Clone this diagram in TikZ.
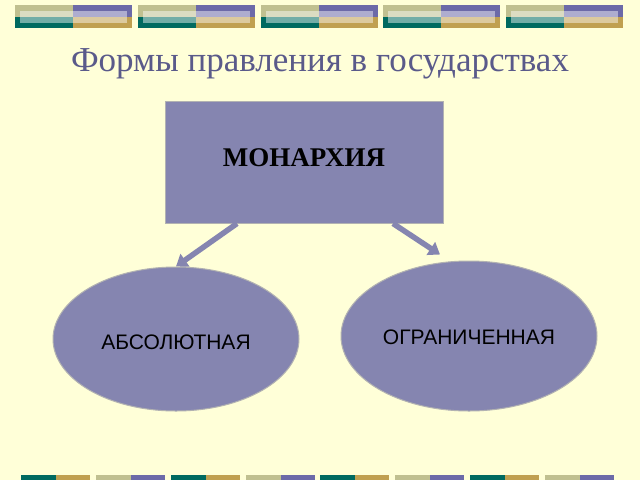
\documentclass[tikz,border=0pt]{standalone}
\usepackage{fontspec}
\setmainfont{Liberation Serif}
\setsansfont{Liberation Sans}
\usetikzlibrary{arrows.meta,shapes.geometric}
\definecolor{bg}{HTML}{FFFFD8}
\definecolor{ol}{HTML}{C0C090}
\definecolor{pu}{HTML}{6C6AA8}
\definecolor{te}{HTML}{006A60}
\definecolor{go}{HTML}{C0A050}
\definecolor{fillc}{HTML}{8585B0}
\definecolor{tit}{HTML}{5A5A8A}
\tikzset{shp/.style={fill=fillc,draw=gray!60,line width=1pt},
 arr/.style={draw=fillc,line width=5.5pt,-{Triangle[length=11pt,width=15pt]}}}
\begin{document}
\begin{tikzpicture}[x=1pt,y=-1pt]
\fill[bg] (0,0) rectangle (640,480);
\useasboundingbox (0,0) rectangle (640,480);
\foreach \x in {15,138,261,383,506}{
 \fill[ol] (\x,5) rectangle ++(58,12);
 \fill[pu] (\x+58,5) rectangle ++(59,12);
 \fill[te] (\x,17) rectangle ++(58,11);
 \fill[go] (\x+58,17) rectangle ++(59,11);
 \fill[white,opacity=0.45] (\x+5,11) rectangle ++(107,12);
}
\foreach \x [count=\i] in {21,96,171,246,320,395,470,545}{
 \ifodd\i
  \fill[te] (\x,475) rectangle ++(35,5); \fill[go] (\x+35,475) rectangle ++(34,5);
 \else
  \fill[ol] (\x,475) rectangle ++(35,5); \fill[pu] (\x+35,475) rectangle ++(34,5);
 \fi
}
\node[text=tit,font=\fontsize{35}{40}\selectfont] (t) at (320,64) {Формы правления в государствах};
\node[shp,minimum width=278,minimum height=122,inner sep=0] (m) at (304,162) {};
\node[font=\bfseries\fontsize{27}{32}\selectfont] (mt) at (304,158) {МОНАРХИЯ};
\node[shp,ellipse,minimum width=246,minimum height=144,inner sep=0] (a) at (176,339) {};
\node[font=\sffamily\fontsize{21}{25}\selectfont] (at) at (176,342) {АБСОЛЮТНАЯ};
\node[shp,ellipse,minimum width=256,minimum height=150,inner sep=0] (o) at (469,336) {};
\node[font=\sffamily\fontsize{21}{25}\selectfont] (ot) at (469,337) {ОГРАНИЧЕННАЯ};
\draw[arr] ([xshift=-67]m.south) -- (a.north);
\draw[arr] ([xshift=89]m.south) -- ([xshift=-29,yshift=6]o.north);
\end{tikzpicture}
\end{document}
